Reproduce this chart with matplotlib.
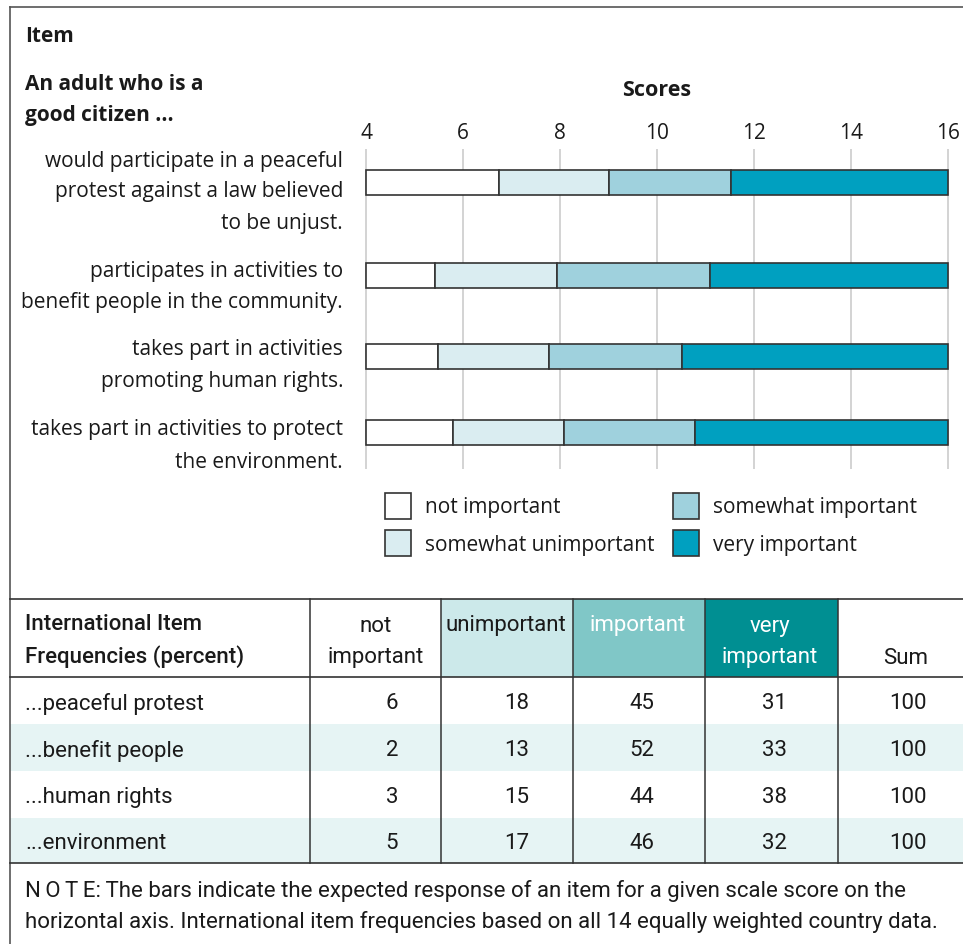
import matplotlib
matplotlib.use("Agg")
import matplotlib.pyplot as plt
from matplotlib.patches import Rectangle
from matplotlib.lines import Line2D

# score scale
score_min, score_max = 4, 16
score_ticks = [4, 6, 8, 10, 12, 14, 16]

item_labels = [
    ["would participate in a peaceful", "protest against a law believed", "to be unjust."],
    ["participates in activities to", "benefit people in the community."],
    ["takes part in activities", "promoting human rights."],
    ["takes part in activities to protect", "the environment."],
]
# thresholds between response categories on the score scale
cut_1 = [6.74, 5.42, 5.48, 5.79]
cut_2 = [9.01, 7.94, 7.77, 8.08]
cut_3 = [11.53, 11.09, 10.52, 10.78]

categories = ["not important", "somewhat unimportant",
              "somewhat important", "very important"]
bar_colors = ["#ffffff", "#daedf1", "#9fd1dd", "#00a0c0"]

# table of international item frequencies
row_labels = ["...peaceful protest", "...benefit people",
              "...human rights", "...environment"]
pct_not = [6, 2, 3, 5]
pct_unimp = [18, 13, 15, 17]
pct_imp = [45, 52, 44, 46]
pct_very = [31, 33, 38, 32]
pct_sum = [100, 100, 100, 100]

W, H = 963, 945
fig = plt.figure(figsize=(W / 100, H / 100), dpi=100)

MAIN = ["Open Sans", "DejaVu Sans"]
NARROW = ["Roboto", "DejaVu Sans"]
INK = "#1a1a1a"
FS = 15     # upper part
TFS = 16    # table and note


def fx(x):
    return x / W


def fy(y):
    return 1 - y / H


def txt(x, y, s, **kw):
    # y is the visual middle of the line; nudge for descender space
    kw.setdefault("color", INK)
    kw.setdefault("va", "center")
    fig.text(fx(x), fy(y + 2), s, **kw)


def hline(x0, x1, y, color="#333333", lw=1.2):
    fig.add_artist(Line2D([fx(x0), fx(x1)], [fy(y), fy(y)], color=color, lw=lw))


def vline(x, y0, y1, color="#333333", lw=1.2):
    fig.add_artist(Line2D([fx(x), fx(x)], [fy(y0), fy(y1)], color=color, lw=lw))


def rect(x0, y0, x1, y1, fc, ec="none", lw=0, z=0):
    fig.add_artist(Rectangle((fx(x0), fy(y1)), fx(x1) - fx(x0), fy(y0) - fy(y1),
                             facecolor=fc, edgecolor=ec, lw=lw, zorder=z))


# --- bar chart ---
x_left, x_right = 366, 948
ppu = (x_right - x_left) / (score_max - score_min)
pad = 0.05
ax_x0 = x_left - pad * ppu
ax_x1 = x_right + pad * ppu
ax = fig.add_axes([fx(ax_x0), fy(470), fx(ax_x1) - fx(ax_x0), fy(150) - fy(470)])
ax.set_xlim(score_min - pad, score_max + pad)
ax.set_ylim(470, 150)
row_y = [183.5, 276.5, 357.5, 433.5]

starts = [[score_min] * 4, cut_1, cut_2, cut_3]
ends = [cut_1, cut_2, cut_3, [score_max] * 4]
for k in range(4):
    widths = [e - s for s, e in zip(starts[k], ends[k])]
    ax.barh(row_y, widths, left=starts[k], height=25, color=bar_colors[k],
            edgecolor="#333333", linewidth=1.2, zorder=3)

ax.set_xticks(score_ticks)
ax.xaxis.tick_top()
ax.tick_params(axis="x", length=0, pad=4, labelsize=FS, colors=INK)
for lab in ax.get_xticklabels():
    lab.set_fontfamily(MAIN)
ax.set_yticks([])
ax.grid(axis="x", color="#c8c8c8", lw=1.1, zorder=0)
for sp in ax.spines.values():
    sp.set_visible(False)

txt(657, 88, "Scores", ha="center", fontsize=FS + 0.5, fontweight="bold", family=MAIN)
txt(25, 35, "Item", ha="left", fontsize=FS, fontweight="bold", family=MAIN)
txt(25, 82, "An adult who is a", ha="left", fontsize=FS, fontweight="bold", family=MAIN)
txt(25, 114, "good citizen ...", ha="left", fontsize=FS, fontweight="bold", family=MAIN)

label_y = [[159, 190, 222], [270, 301], [348, 380], [428, 460]]
for lines, ys in zip(item_labels, label_y):
    for line, y in zip(lines, ys):
        txt(343, y, line, ha="right", fontsize=FS, family=MAIN)

# legend
legend_pos = [(385, 507), (385, 544), (673, 507), (673, 544)]
for (lx, ly), name, col in zip(legend_pos, categories, bar_colors):
    rect(lx, ly - 13, lx + 26, ly + 13, col, ec="#333333", lw=1.2, z=3)
    txt(lx + 40, ly - 1, name, ha="left", fontsize=FS, family=MAIN)

# --- frame ---
hline(10, W, 8, color="#555555", lw=1.2)
vline(10, 8, H, color="#555555", lw=1.2)

# --- table ---
col_edges = [310, 441, 573, 705, 838]
rect(441, 600, 573, 678, "#cce9ea")
rect(573, 600, 705, 678, "#80c7c7")
rect(705, 600, 838, 678, "#008f92")
row_mid = [702, 749, 796, 842]
row_top = [678, 725, 772, 819]
row_bot = [725, 772, 819, 864]
for i in (1, 3):
    rect(10, row_top[i], W, row_bot[i], "#e6f4f4")

hline(10, W, 600)
hline(10, W, 678)
hline(10, W, 864)
for x in col_edges:
    vline(x, 600, 864, lw=1.1)

txt(25, 623, "International Item", ha="left", fontsize=TFS, fontweight="medium", family=NARROW)
txt(25, 655, "Frequencies (percent)", ha="left", fontsize=TFS, fontweight="medium", family=NARROW)
txt(376, 625, "not", ha="center", fontsize=TFS, family=NARROW)
txt(376, 656, "important", ha="center", fontsize=TFS, family=NARROW)
txt(506, 624, "unimportant", ha="center", fontsize=TFS, family=NARROW)
txt(638, 624, "important", ha="center", fontsize=TFS, family=NARROW, color="white")
txt(770, 625, "very", ha="center", fontsize=TFS, family=NARROW, color="white")
txt(770, 656, "important", ha="center", fontsize=TFS, family=NARROW, color="white")
txt(906, 656, "Sum", ha="center", fontsize=TFS, family=NARROW)

value_x = [392, 517, 642, 774, 908]
columns = [pct_not, pct_unimp, pct_imp, pct_very, pct_sum]
for i, y in enumerate(row_mid):
    txt(25, y, row_labels[i], ha="left", fontsize=TFS, family=NARROW)
    for x, col in zip(value_x, columns):
        txt(x, y, str(col[i]), ha="center", fontsize=TFS, family=NARROW)

txt(25, 889, "N\u2009O\u2009T\u2009E:\u2009The bars indicate the expected response of an item "
    "for a given scale score on the", ha="left", fontsize=TFS, family=NARROW)
txt(25, 920, "horizontal axis. International item frequencies based on all 14 equally "
    "weighted country data.", ha="left", fontsize=TFS, family=NARROW)

fig.savefig("out.png", dpi=100)
